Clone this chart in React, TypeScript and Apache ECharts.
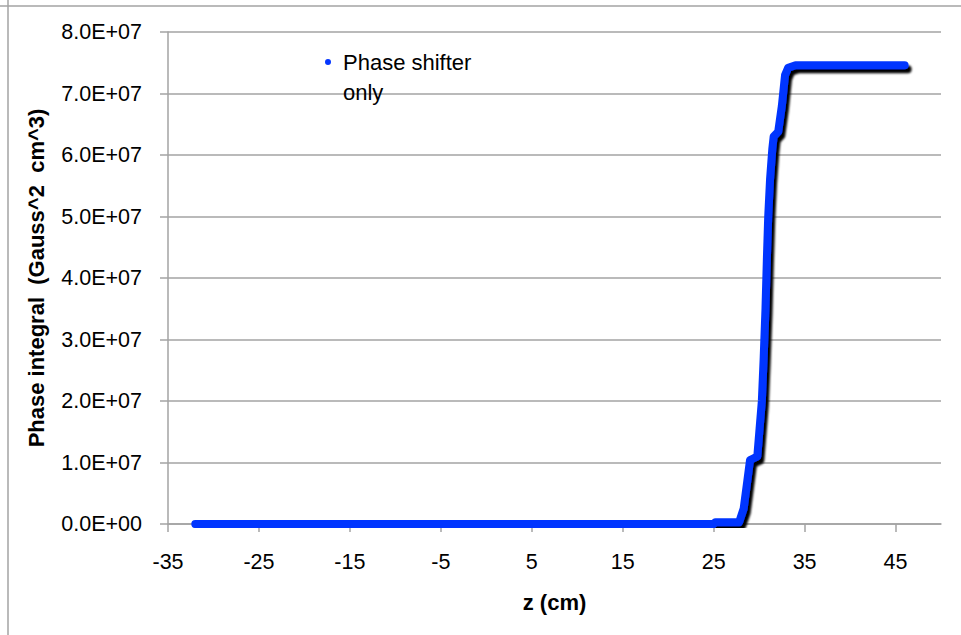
import React, { useEffect, useRef } from "react";
import * as echarts from "echarts";

// z position (cm)
const zValues: number[] = [
  -32, 25, 25.2, 27.8, 28.3, 28.7, 29.0, 29.4, 29.8, 30.05, 30.3, 30.5, 30.7,
  30.85, 31.0, 31.2, 31.45, 31.6, 32.1, 32.5, 32.85, 33.2, 34.0, 40, 46,
];
// Phase integral (Gauss^2 cm^3)
const phaseValues: number[] = [
  0, 0, 3e5, 3e5, 2.5e6, 7e6, 1.04e7, 1.07e7, 1.1e7, 1.55e7, 2.0e7, 2.7e7, 3.5e7,
  4.3e7, 5.0e7, 5.6e7, 6.1e7, 6.3e7, 6.38e7, 6.8e7, 7.3e7, 7.42e7, 7.46e7, 7.46e7,
  7.46e7,
];
const seriesName = "Phase shifter only";
const xTitle = "z (cm)";
const yTitle = "Phase integral  (Gauss^2  cm^3)";

const FONT = "Liberation Sans";
const GRID_COLOR = "#a3a3a3";
const BLUE = "#0436ff";

function sci(v: number): string {
  if (v === 0) return "0.0E+00";
  const e = Math.floor(Math.log10(Math.abs(v)) + 1e-9);
  const m = v / Math.pow(10, e);
  return m.toFixed(1) + "E" + (e < 0 ? "-" : "+") + String(Math.abs(e)).padStart(2, "0");
}

export default function App() {
  const ref = useRef<HTMLDivElement>(null);
  useEffect(() => {
    if (!ref.current) return;
    const chart = echarts.init(ref.current, undefined, { renderer: "svg" });
    const data = zValues.map((z, i) => [z, phaseValues[i]]);
    chart.setOption({
      animation: false,
      backgroundColor: "#ffffff",
      grid: { left: 168, top: 32, right: 20, bottom: 111, containLabel: false },
      xAxis: {
        type: "value",
        min: -35,
        max: 50,
        interval: 10,
        name: xTitle,
        nameLocation: "middle",
        nameGap: 67,
        nameTextStyle: { fontFamily: FONT, fontSize: 22, fontWeight: "bold", color: "#000" },
        axisLine: { show: true, onZero: false, lineStyle: { color: GRID_COLOR, width: 1.5 } },
        axisTick: { show: true, inside: false, length: 8, lineStyle: { color: GRID_COLOR, width: 1.5 } },
        axisLabel: {
          show: true,
          margin: 27,
          showMaxLabel: false,
          fontFamily: FONT,
          fontSize: 21.5,
          color: "#000",
          formatter: (v: number) => (v > 45 ? "" : String(v)),
        },
        splitLine: { show: false },
      },
      yAxis: {
        type: "value",
        min: 0,
        max: 8e7,
        interval: 1e7,
        name: yTitle,
        nameLocation: "middle",
        nameGap: 121,
        nameTextStyle: { fontFamily: FONT, fontSize: 22, fontWeight: "bold", color: "#000" },
        axisLine: { show: true, onZero: false, lineStyle: { color: GRID_COLOR, width: 1.5 } },
        axisTick: { show: true, inside: false, length: 8, lineStyle: { color: GRID_COLOR, width: 1.5 } },
        axisLabel: {
          margin: 26,
          fontFamily: FONT,
          fontSize: 21.5,
          color: "#000",
          formatter: (v: number) => sci(v),
        },
        splitLine: { show: true, lineStyle: { color: GRID_COLOR, width: 1.5 } },
      },
      legend: {
        show: true,
        left: 320,
        top: 42,
        orient: "vertical",
        icon: "path://M3,0 A3,3 0 1,1 3,6 A3,3 0 1,1 3,0 Z M0,36 L6,36 L6,35.99 Z",
        itemWidth: 6,
        itemHeight: 36,
        itemStyle: { color: BLUE, borderWidth: 0 },
        formatter: () => "Phase shifter\nonly",
        textStyle: {
          fontFamily: FONT,
          fontSize: 22,
          lineHeight: 30,
          color: "#000",
          padding: [0, 0, 0, 7],
        },
        data: [seriesName],
      },
      graphic: [
        {
          type: "line",
          shape: { x1: 0, y1: 6, x2: 961, y2: 6 },
          style: { stroke: GRID_COLOR, lineWidth: 1.5 },
          silent: true,
        },
        {
          type: "line",
          shape: { x1: 8, y1: 0, x2: 8, y2: 635 },
          style: { stroke: GRID_COLOR, lineWidth: 1.5 },
          silent: true,
        },
      ],
      series: [
        {
          name: seriesName,
          type: "line",
          data,
          showSymbol: false,
          symbol: "circle",
          color: BLUE,
          lineStyle: {
            color: BLUE,
            width: 8,
            cap: "round",
            join: "round",
            shadowColor: "rgba(0,0,0,1)",
            shadowBlur: 2,
            shadowOffsetX: 3,
            shadowOffsetY: 4,
          },
          itemStyle: { color: BLUE },
          z: 3,
        },
      ],
    });
    return () => chart.dispose();
  }, []);
  return (
    <div
      ref={ref}
      style={{ position: "absolute", left: 0, top: 0, width: 961, height: 635 }}
    />
  );
}
